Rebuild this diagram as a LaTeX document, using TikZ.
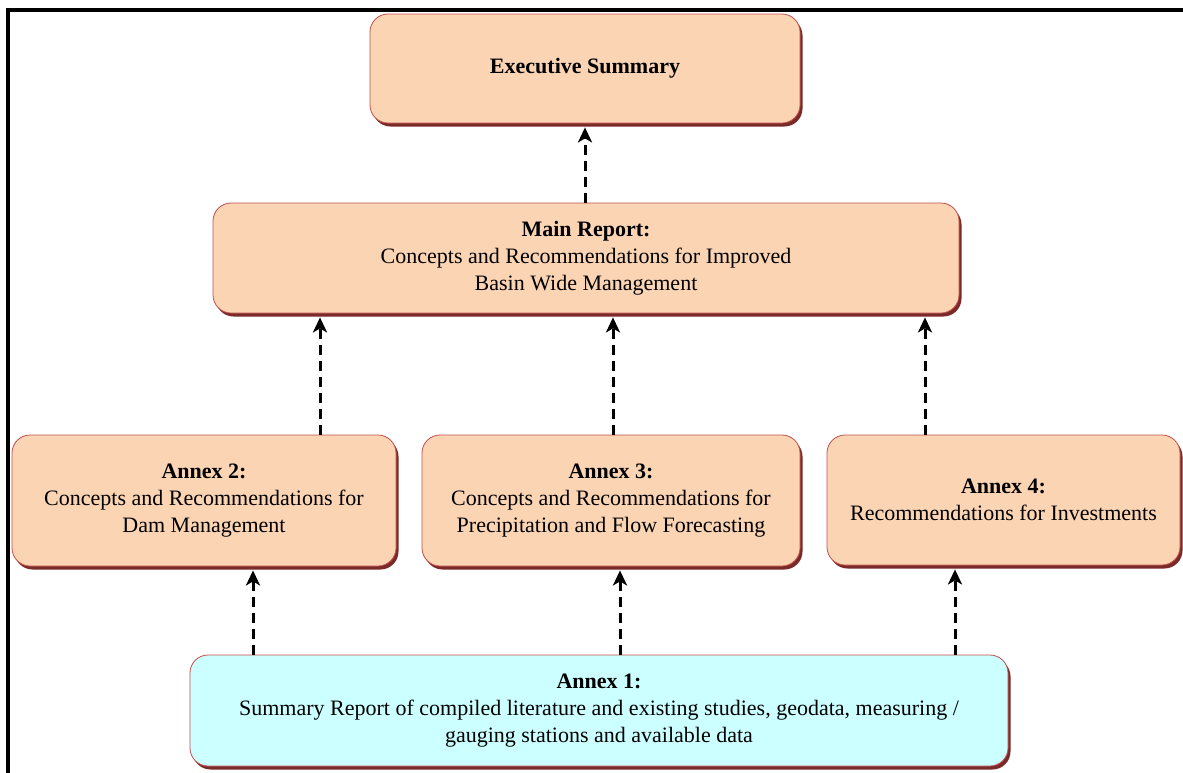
\documentclass[tikz,border=0pt]{standalone}
\usepackage{fontspec}
\setmainfont{Liberation Serif}
\usetikzlibrary{shadows,arrows.meta}
\definecolor{peach}{HTML}{FBD4B4}
\definecolor{cyanlt}{HTML}{CCFFFF}
\definecolor{edge}{HTML}{C0504D}
\definecolor{shade}{HTML}{7A2A28}
\tikzset{
  box/.style={draw=edge, line width=0.8pt, rounded corners=18pt, align=center,
    inner sep=0pt, font=\fontsize{22}{27}\selectfont,
    drop shadow={shadow xshift=2.5pt, shadow yshift=-3.5pt, fill=shade, opacity=1}},
  peachbox/.style={box, fill=peach},
  cyanbox/.style={box, fill=cyanlt},
  arr/.style={line width=3pt, dash pattern=on 10pt off 6pt,
    -{Stealth[length=15pt,width=14pt,inset=4pt]}},
  frame/.style={line width=4pt, line cap=rect}
}
\begin{document}
\begin{tikzpicture}[x=1pt,y=-1pt]
\useasboundingbox (0,0) rectangle (1183,772);
% frame
\draw[frame] (8,800) -- (8,10) -- (1200,10);
% boxes
\node[peachbox, minimum width=430pt, minimum height=109pt] (ex) at (585,68.5)
  {\textbf{Executive Summary}};
\node[peachbox, minimum width=746pt, minimum height=110pt] (mr) at (586,258)
  {\textbf{Main Report:}\\Concepts and Recommendations for Improved\\Basin Wide Management};
\node[peachbox, minimum width=384pt, minimum height=131pt] (a2) at (204,500.5)
  {\textbf{Annex 2:}\\Concepts and Recommendations for\\Dam Management};
\node[peachbox, minimum width=378pt, minimum height=131pt] (a3) at (611,500.5)
  {\textbf{Annex 3:}\\Concepts and Recommendations for\\Precipitation and Flow Forecasting};
\node[peachbox, minimum width=353pt, minimum height=130pt] (a4) at (1003.5,500)
  {\textbf{Annex 4:}\\Recommendations for Investments};
\node[cyanbox, minimum width=818pt, minimum height=111pt] (a1) at (599,710.5)
  {\textbf{Annex 1:}\\Summary Report of compiled literature and existing studies, geodata, measuring /\\gauging stations and available data};
% x positions of connectors
\coordinate (k0) at (585,0);
\coordinate (k1) at (320,0);
\coordinate (k2) at (613,0);
\coordinate (k3) at (925,0);
\coordinate (k4) at (253,0);
\coordinate (k5) at (620,0);
\coordinate (k6) at (955,0);
% connectors
\draw[arr] (mr.north -| k0) -- ([yshift=-4pt]ex.south -| k0);
\draw[arr] (a2.north -| k1) -- ([yshift=-4pt]mr.south -| k1);
\draw[arr] (a3.north -| k2) -- ([yshift=-4pt]mr.south -| k2);
\draw[arr] (a4.north -| k3) -- ([yshift=-4pt]mr.south -| k3);
\draw[arr] (a1.north -| k4) -- ([yshift=-4pt]a2.south -| k4);
\draw[arr] (a1.north -| k5) -- ([yshift=-4pt]a3.south -| k5);
\draw[arr] (a1.north -| k6) -- ([yshift=-4pt]a4.south -| k6);
\end{tikzpicture}
\end{document}
